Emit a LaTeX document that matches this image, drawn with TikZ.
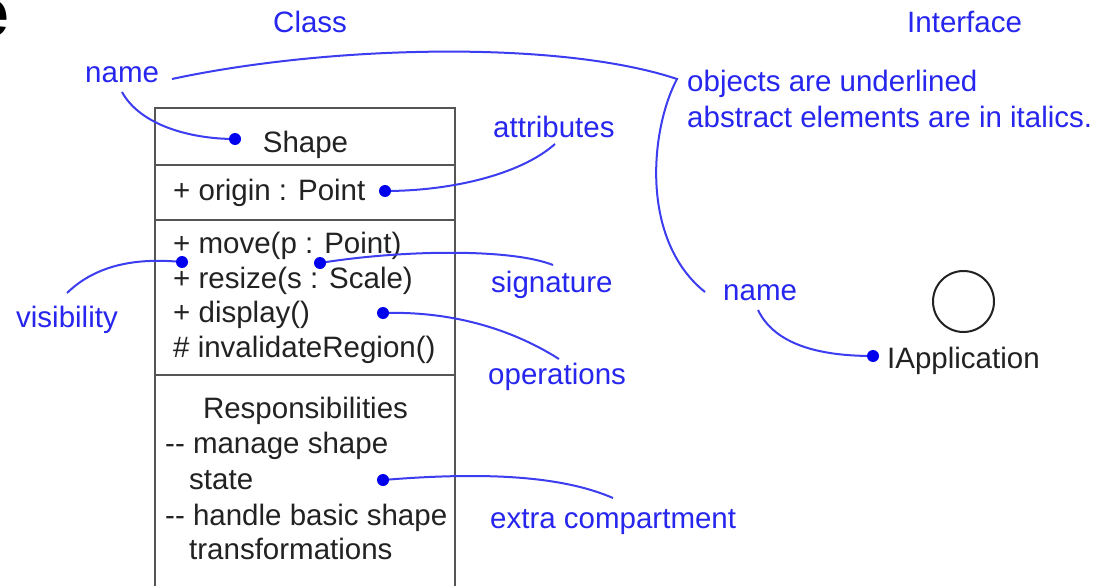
\documentclass[tikz,border=0pt]{standalone}
\usepackage{fontspec}
\setmainfont{Liberation Sans}
\definecolor{lblue}{HTML}{2626EE}
\definecolor{cblue}{HTML}{3C3CF0}
\definecolor{dblue}{HTML}{0000EE}
\definecolor{boxgray}{HTML}{555555}
\definecolor{txt}{HTML}{222222}
\begin{document}
\begin{tikzpicture}[x=1pt,y=-1pt,
  lbl/.style={font=\fontsize{29.5}{35}\selectfont, text=lblue, inner sep=0, anchor=base west},
  uml/.style={font=\fontsize{29.5}{35}\selectfont, text=txt, inner sep=0, anchor=base west},
  umlc/.style={uml, anchor=base},
  conn/.style={draw=cblue, line width=2pt},
  dotpt/.style={circle, fill=dblue, inner sep=0, minimum size=12pt},
  boxline/.style={draw=boxgray, line width=2.5pt},
  iface/.style={circle, draw=txt, line width=2pt, inner sep=0, minimum size=61pt}]
\useasboundingbox[fill=white] (0,0) rectangle (1098,586);

% cropped title letter
\node[font=\fontsize{68}{68}\selectfont\bfseries, anchor=base east, inner sep=0] (title) at (10,37) {e};

% class box
\coordinate (btl) at (155,108);
\coordinate (btr) at (455,108);
\coordinate (bbl) at (155,600);
\coordinate (bbr) at (455,600);
\draw[boxline] (bbl) -- (btl) -- (btr) -- (bbr);
\draw[boxline] (155,165) -- (455,165);
\draw[boxline] (155,220) -- (455,220);
\draw[boxline] (155,375) -- (455,375);

\node[umlc] (shape) at (305.5,152) {Shape};
\node[uml] (origin) at (173,200) {+ origin : Point};
\node[uml] (move) at (173,253) {+ move(p : Point)};
\node[uml] (resize) at (173,288) {+ resize(s : Scale)};
\node[uml] (display) at (173,322) {+ display()};
\node[uml] (invalid) at (173,357) {\# invalidateRegion()};
\node[umlc] (resp) at (305.5,418) {Responsibilities};
\node[uml] (r1) at (165,453) {-{}- manage shape};
\node[uml] (r2) at (189,489) {state};
\node[uml] (r3) at (165,525) {-{}- handle basic shape};
\node[uml] (r4) at (189,559) {transformations};

% interface
\node[iface] (icircle) at (963.5,301.5) {};
\node[uml] (iapp) at (887,368) {IApplication};

% blue labels
\node[lbl] (lclass) at (273,33) {Class};
\node[lbl] (linterface) at (907,33) {Interface};
\node[lbl] (lnameL) at (85,83) {name};
\node[lbl] (lattr) at (493,137) {attributes};
\node[lbl] (lnote1) at (687,92) {objects are underlined};
\node[lbl] (lnote2) at (687,128) {abstract elements are in italics.};
\node[lbl] (lsig) at (491,292) {signature};
\node[lbl] (lnameR) at (723,300) {name};
\node[lbl] (lvis) at (16,327) {visibility};
\node[lbl] (lops) at (488,384) {operations};
\node[lbl] (lextra) at (490,528) {extra compartment};

% connector end points
\coordinate (dShape) at (235,139);
\coordinate (dOrigin) at (385,191);
\coordinate (dVis) at (182,262);
\coordinate (dSig) at (320,263);
\coordinate (dOps) at (383,313);
\coordinate (dExtra) at (383,480);
\coordinate (dIApp) at (873,356);

\coordinate (cNameL) at (122,92);
\coordinate (cNameLr) at (172,79);
\coordinate (cCorner) at (677,79);
\coordinate (cNameR) at (705,292);
\coordinate (cNameRb) at (758,310);
\coordinate (cAttr) at (555,144);
\coordinate (cSig) at (553,265);
\coordinate (cOps) at (559,359);
\coordinate (cVis) at (67,293);
\coordinate (cExtra) at (613,498);

% connectors
\draw[conn] (cNameL) .. controls (140,125) and (190,139) .. (dShape);
\draw[conn, line join=miter] (cNameLr) .. controls (330,45) and (560,40) .. (cCorner)
   .. controls (650,130) and (640,240) .. (cNameR);
\draw[conn] (cAttr) .. controls (520,175) and (450,191) .. (dOrigin);
\draw[conn] (dSig) .. controls (400,250) and (510,248) .. (cSig);
\draw[conn] (dOps) .. controls (450,311) and (510,328) .. (cOps);
\draw[conn] (cVis) .. controls (98,263) and (140,258) .. (dVis);
\draw[conn] (dExtra) .. controls (480,472) and (560,475) .. (cExtra);
\draw[conn] (cNameRb) .. controls (775,345) and (820,356) .. (dIApp);

% dots
\foreach \d in {dShape,dOrigin,dVis,dSig,dOps,dExtra,dIApp}
  \node[dotpt] at (\d) {};
\end{tikzpicture}
\end{document}
